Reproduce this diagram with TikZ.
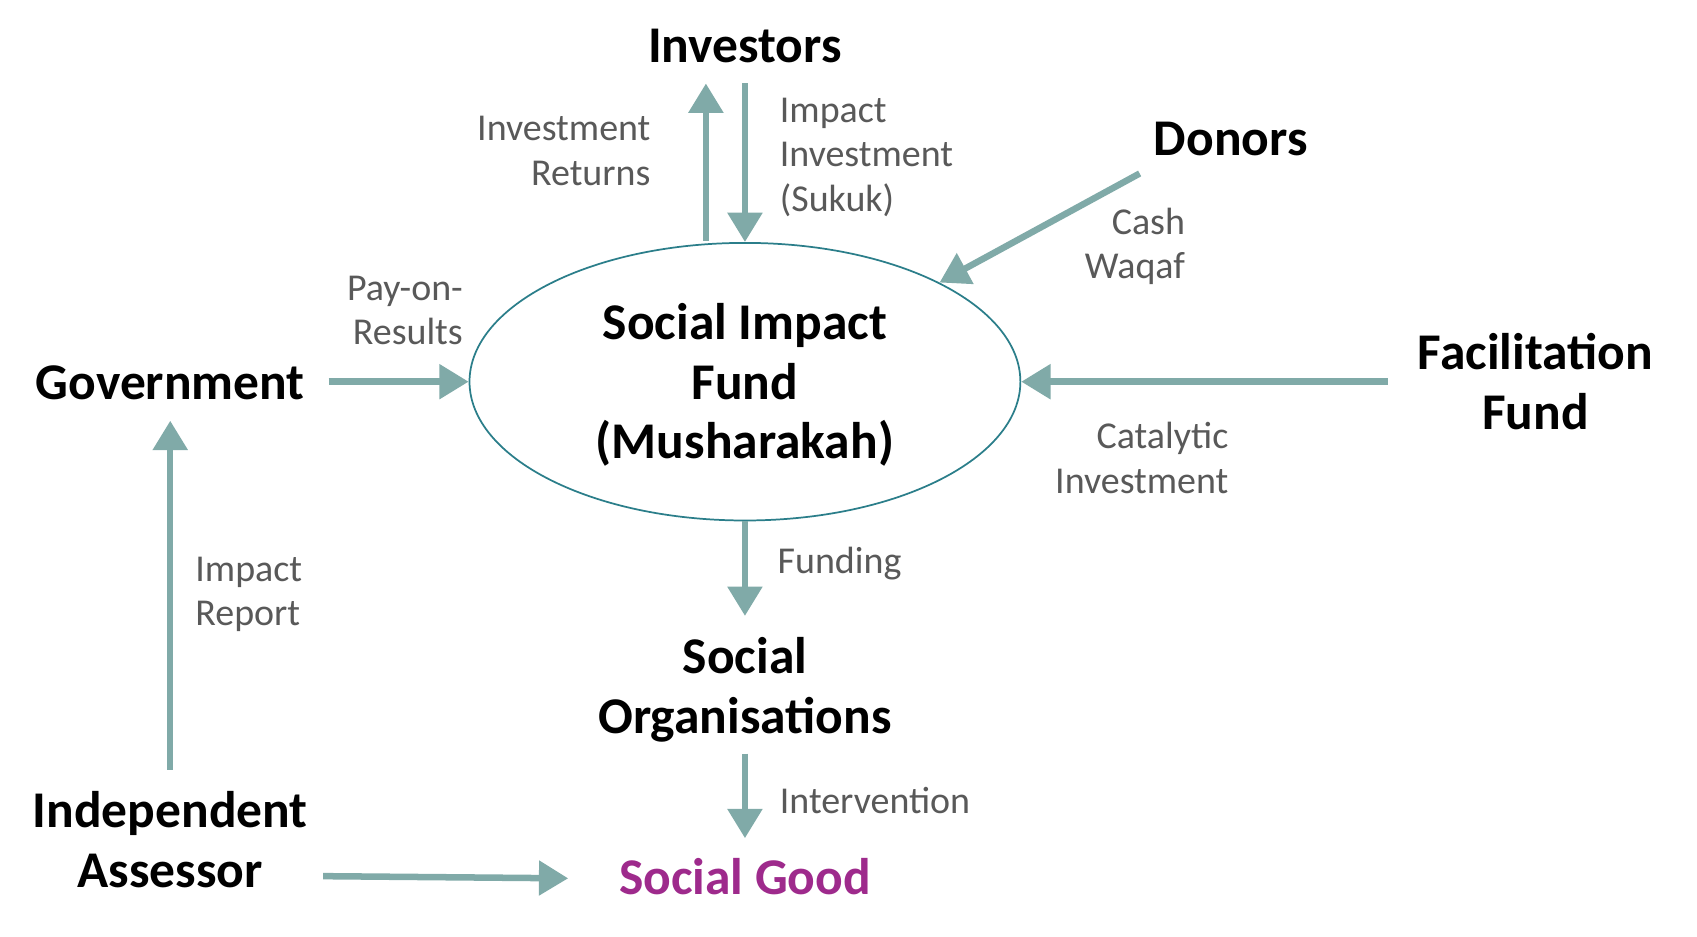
\documentclass[tikz,border=0pt]{standalone}
\usepackage{fontspec}
\setmainfont{Carlito}
\usetikzlibrary{arrows.meta,shapes.geometric}
\definecolor{arrowc}{HTML}{80AAA8}
\definecolor{ringc}{HTML}{2B7E8A}
\definecolor{labelc}{HTML}{595959}
\definecolor{goodc}{HTML}{9E2A8C}
\begin{document}
\begin{tikzpicture}[x=1pt,y=1pt,
  title/.style={font=\fontsize{47.5}{55}\selectfont\bfseries, align=center, inner sep=0pt, anchor=base},
  lbl/.style={font=\fontsize{35}{41}\selectfont, text=labelc, inner sep=0pt, anchor=base},
  flow/.style={draw=arrowc, line width=6pt, -{Triangle[length=27pt,width=31pt]}},
  ring/.style={draw=ringc, line width=1.6pt, ellipse, minimum width=508pt, minimum height=256pt, inner sep=0pt}
]
\useasboundingbox (0,0) rectangle (1565,-864);
\fill[white] (0,0) rectangle (1565,-864);

% ellipse
\node[ring] (fund) at (687,-352) {};
\node[title] (fundtext) at (687,-423) {Social Impact\\Fund\\(Musharakah)};

% titles
\node[title] (investors) at (687,-58) {Investors};
\node[title] (donors) at (1135,-143) {Donors};
\node[title] (facil) at (1416,-396) {Facilitation\\Fund};
\node[title] (gov) at (157,-368) {Government};
\node[title] (socorg) at (687,-676) {Social\\Organisations};
\node[title, text=goodc] (good) at (687,-825) {Social Good};
\node[title] (assessor) at (157,-818) {Independent\\Assessor};

% labels
\node[lbl, align=right, anchor=base east] (retlbl) at (600,-171) {Investment\\Returns};
\node[lbl, align=left, anchor=base west] (implbl) at (719,-195) {Impact\\Investment\\(Sukuk)};
\node[lbl, align=right, anchor=base east] (cashlbl) at (1093,-257) {Cash\\Waqaf};
\node[lbl, align=right, anchor=base east] (catlbl) at (1133,-455) {Catalytic\\Investment};
\node[lbl, align=right, anchor=base east] (paylbl) at (427,-318) {Pay-on-\\Results};
\node[lbl, anchor=base west] (fundlbl) at (717,-529) {Funding};
\node[lbl, anchor=base west] (intlbl) at (719,-750) {Intervention};
\node[lbl, align=left, anchor=base west] (replbl) at (180,-577) {Impact\\Report};

% connector ends
\coordinate (invUp) at (651,-77);
\coordinate (invDown) at (687,-77);
\coordinate (fundUp) at (651,-222);
\coordinate (donorStart) at (1051,-160);
\coordinate (facStart) at (1280,-352);
\coordinate (govStart) at (303,-352);
\coordinate (orgTop) at (687,-568);
\coordinate (orgBottom) at (687,-695);
\coordinate (goodTop) at (687,-773);
\coordinate (assStart) at (298,-808);
\coordinate (goodLeft) at (524,-810);
\coordinate (assTop) at (157,-710);
\coordinate (govBottom) at (157,-388);

% connectors
\draw[flow] (fundUp) -- (invUp);
\draw[flow] (invDown) -- (fund.north);
\draw[flow] (donorStart) -- (fund.27);
\draw[flow] (facStart) -- (fund.east);
\draw[flow] (govStart) -- (fund.west);
\draw[flow] (fund.south) -- (orgTop);
\draw[flow] (orgBottom) -- (goodTop);
\draw[flow] (assStart) -- (goodLeft);
\draw[flow] (assTop) -- (govBottom);
\end{tikzpicture}
\end{document}
